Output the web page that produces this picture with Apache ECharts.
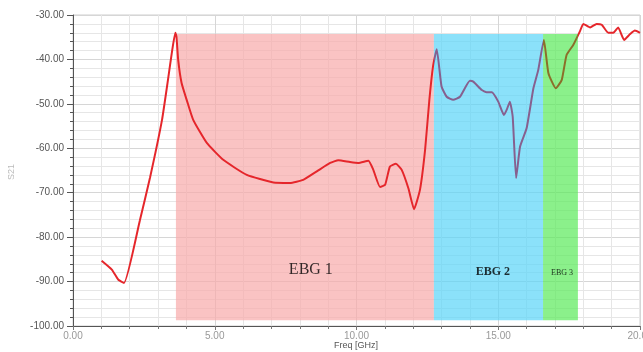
<!DOCTYPE html>
<html><head><meta charset="utf-8">
<script src="https://cdn.jsdelivr.net/npm/echarts@6/dist/echarts.min.js"></script>
<style>html,body{margin:0;padding:0;background:#fff}#c{width:643px;height:352px}</style>
</head><body><div id="c"></div>
<script>
var freq = [1.01,1.37,1.60,1.80,2.36,2.72,3.14,3.35,3.50,3.61,3.65,3.71,3.83,4.01,4.24,4.72,5.30,6.13,7.07,7.65,8.12,8.60,9.07,9.36,9.77,10.06,10.42,10.59,10.83,11.01,11.18,11.39,11.59,11.83,12.03,12.24,12.42,12.57,12.70,12.83,13.00,13.18,13.41,13.65,14.00,14.12,14.42,14.59,14.77,15.00,15.20,15.30,15.41,15.51,15.63,15.77,16.00,16.24,16.41,16.61,16.77,17.03,17.24,17.41,17.65,17.88,18.00,18.24,18.47,18.65,18.88,19.06,19.23,19.44,19.65,19.82,20.00];
var s21 = [-85.3,-87.3,-89.6,-90.3,-76.2,-66.5,-53.6,-44.6,-37.9,-34.0,-34.9,-40.1,-45.3,-49.1,-53.6,-58.8,-62.6,-66.0,-67.7,-67.8,-67.1,-65.2,-63.3,-62.7,-63.1,-63.3,-62.8,-64.8,-68.7,-68.2,-64.1,-63.5,-64.8,-69.0,-73.7,-69.3,-60.3,-49.1,-41.5,-37.7,-46.1,-48.4,-49.1,-48.4,-44.8,-45.0,-46.9,-47.4,-47.4,-49.5,-52.5,-51.3,-49.5,-52.9,-66.7,-59.6,-55.5,-46.5,-42.4,-35.6,-43.1,-46.5,-44.6,-39.0,-36.7,-33.7,-32.0,-32.8,-32.0,-32.2,-34.0,-34.0,-32.8,-35.6,-34.3,-33.5,-34.0];
var bandNames = ['EBG 1','EBG 2','EBG 3'];
var bandFrom = [3.63,12.73,16.58];
var bandTo = [12.73,16.58,17.81];
var bandTop = -34.3, bandBottom = -98.7;
var bandLabelX = [8.39,14.81,17.25];
var bandLabelY = [-87.3,-87.8,-88.0];
var xTicks = ['0.00','5.00','10.00','15.00','20.00'];
var xAxisTitle = 'Freq [GHz]';
var yAxisTitle = 'S21';

var bandColors = ['rgba(248,169,169,0.7)','rgba(90,212,248,0.7)','rgba(90,234,90,0.7)'];
var labelFonts = [
  {fontSize:16, fontWeight:'normal'},
  {fontSize:12, fontWeight:'bold'},
  {fontSize:8, fontWeight:'normal'}
];

var lineData = freq.map(function(f,i){return [f,s21[i]];});
var areas = bandNames.map(function(n,i){
  return [{xAxis:bandFrom[i], yAxis:bandTop, itemStyle:{color:bandColors[i]}},{xAxis:bandTo[i], yAxis:bandBottom}];
});
var labelData = bandNames.map(function(n,i){
  return {value:[bandLabelX[i],bandLabelY[i]], name:n,
    label:{show:true, formatter:n, position:'inside', color:'#000', fontFamily:'Liberation Serif, DejaVu Serif, serif', fontSize:labelFonts[i].fontSize, fontWeight:labelFonts[i].fontWeight}};
});

var chart = echarts.init(document.getElementById('c'), null, {renderer:'canvas'});
chart.setOption({
  animation:false,
  backgroundColor:'#fff',
  grid:{left:73, top:15, right:3, bottom:26, outerBoundsMode:'none', containLabel:false, show:true, borderColor:'#cfcfcf', borderWidth:1, backgroundColor:'transparent'},
  graphic:[
    {type:'text', x:356, y:346, style:{text:xAxisTitle, fill:'#555', font:'9px "Liberation Sans", Arial, sans-serif', textAlign:'center', textVerticalAlign:'middle'}},
    {type:'text', x:12, y:172, rotation:Math.PI/2, style:{text:yAxisTitle, fill:'#bbb', font:'9px "Liberation Sans", Arial, sans-serif', textAlign:'center', textVerticalAlign:'middle'}}
  ],
  xAxis:{type:'value', min:0, max:20, interval:5,
    axisLine:{lineStyle:{color:'#555', width:1}},
    axisTick:{show:true, length:4, lineStyle:{color:'#777'}},
    minorTick:{show:true, splitNumber:5, length:3, lineStyle:{color:'#777'}},
    axisLabel:{color:'#999', fontSize:10, margin:5, fontFamily:'Liberation Sans, Arial, sans-serif',
      formatter:function(v){return xTicks[Math.round(v/5)];}},
    splitLine:{show:true, lineStyle:{color:'#d6d6d6'}},
    minorSplitLine:{show:true, lineStyle:{color:'#e6e6e6'}}
  },
  yAxis:{type:'value', min:-100, max:-30, interval:10,
    axisLine:{show:true, lineStyle:{color:'#555', width:1}},
    axisTick:{show:true, length:6, lineStyle:{color:'#555'}},
    minorTick:{show:true, splitNumber:5, length:3, lineStyle:{color:'#555'}},
    axisLabel:{color:'#555', fontSize:10, margin:9, fontFamily:'Liberation Sans, Arial, sans-serif',
      formatter:function(v){return v.toFixed(2);}},
    splitLine:{show:true, lineStyle:{color:'#d6d6d6'}},
    minorSplitLine:{show:true, lineStyle:{color:'#e6e6e6'}}
  },
  visualMap:{show:false, type:'piecewise', dimension:0, seriesIndex:0,
    pieces:[
      {lt:12.73, color:'#e5262b'},
      {gte:12.73, lt:16.58, color:'#86608f'},
      {gte:16.58, lt:17.81, color:'#8b6f2a'},
      {gte:17.81, color:'#e5262b'}
    ]},
  series:[
    {type:'line', data:lineData, smooth:0.15, showSymbol:false, symbol:'none', z:3,
      lineStyle:{width:2},
      markArea:{silent:true, data:areas}},
    {type:'scatter', data:labelData, symbolSize:0, z:4, silent:true}
  ]
});
</script></body></html>
